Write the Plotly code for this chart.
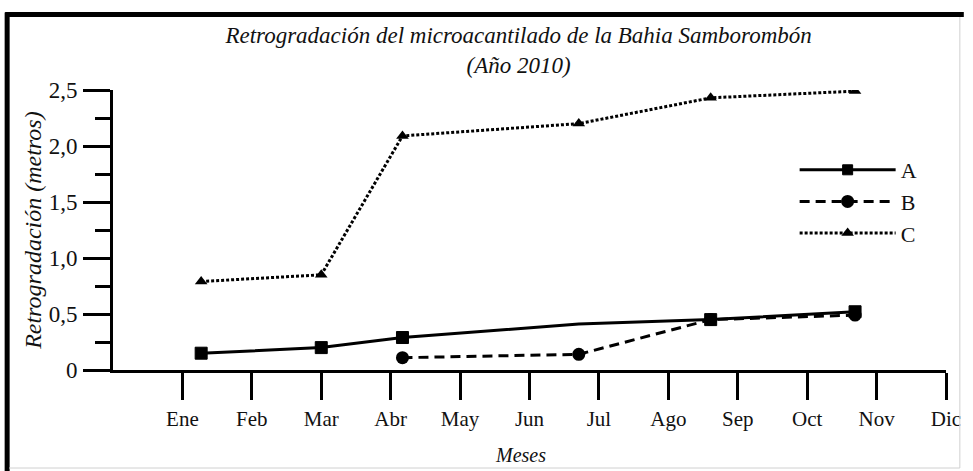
import plotly.graph_objects as go

# ---- data ----
month_labels = ["Ene", "Feb", "Mar", "Abr", "May", "Jun", "Jul", "Ago", "Sep", "Oct", "Nov", "Dic"]
month_pos = [1, 2, 3, 4, 5, 6, 7, 8, 9, 10, 11, 12]

a_x = [1.27, 3.00, 4.17, 6.71, 8.61, 10.69]
a_y = [0.15, 0.20, 0.29, 0.41, 0.45, 0.52]
a_marker_visible = [1, 1, 1, 0, 1, 1]

b_x = [4.17, 6.71, 8.61, 10.69]
b_y = [0.11, 0.14, 0.45, 0.49]

c_x = [1.27, 3.00, 4.17, 6.71, 8.61, 10.69]
c_y = [0.79, 0.85, 2.09, 2.20, 2.43, 2.49]

y_tick_vals = [0, 0.5, 1.0, 1.5, 2.0, 2.5]
y_tick_text = ["0", "0,5", "1,0", "1,5", "2,0", "2,5"]
y_minor_vals = [0.25, 0.75, 1.25, 1.75, 2.25]

title_line1 = "Retrogradación del microacantilado de la Bahia Samborombón"
title_line2 = "(Año 2010)"
x_title = "Meses"
y_title = "Retrogradación (metros)"

FONT = "Liberation Serif"
TXT = "#111"

L, R, T, B = 113, 18, 90, 101
PW = 973 - L - R
PH = 471 - T - B


def px_x(px):
    return (px - L) / PW


def px_y(py):
    return (471 - B - py) / PH


fig = go.Figure()
fig.add_trace(go.Scatter(
    x=a_x, y=a_y, name="A", mode="lines+markers",
    line=dict(color="black", width=3),
    marker=dict(symbol="square", size=[12 * v for v in a_marker_visible], color="black",
                opacity=1, line=dict(color="black", width=1)),
))
fig.add_trace(go.Scatter(
    x=b_x, y=b_y, name="B", mode="lines+markers",
    line=dict(color="black", width=3, dash="10px,6px"),
    marker=dict(symbol="circle", size=13, color="black", opacity=1),
))
fig.add_trace(go.Scatter(
    x=c_x, y=c_y, name="C", mode="lines+markers",
    line=dict(color="black", width=3, dash="3px,2px"),
    marker=dict(symbol="triangle-up", size=11, color="black", opacity=1),
))

fig.update_layout(
    width=973, height=471,
    margin=dict(l=L, r=R, t=T, b=B),
    paper_bgcolor="white", plot_bgcolor="white",
    font=dict(family=FONT, color=TXT, size=20),
    showlegend=True,
    legend=dict(
        x=px_x(802), y=px_y(149), xanchor="left", yanchor="top",
        font=dict(family=FONT, size=22, color=TXT),
        itemwidth=96, bgcolor="rgba(0,0,0,0)", tracegroupgap=0,
    ),
    title=dict(
        text="<i>" + title_line1 + "</i><br><i>" + title_line2 + "</i>",
        x=px_x(523), xref="paper", xanchor="center",
        y=1 - 43 / 471, yref="container", yanchor="middle",
        font=dict(family=FONT, size=23, color=TXT),
    ),
    xaxis=dict(
        range=[0, 12], tickmode="array", tickvals=month_pos, ticktext=month_labels,
        showline=True, linecolor="black", linewidth=3,
        ticks="outside", ticklen=27, tickwidth=3, tickcolor="black",
        showgrid=False, zeroline=False, ticklabelstandoff=1,
        tickfont=dict(family=FONT, size=21, color=TXT),
        fixedrange=True,
    ),
    yaxis=dict(
        range=[0, 2.5], tickmode="array", tickvals=y_tick_vals, ticktext=y_tick_text,
        showline=True, linecolor="black", linewidth=3,
        ticks="outside", ticklen=27, tickwidth=3, tickcolor="black",
        minor=dict(tickmode="array", tickvals=y_minor_vals, ticks="outside",
                   ticklen=15, tickwidth=3, tickcolor="black", showgrid=False),
        showgrid=False, zeroline=False, ticklabelstandoff=1,
        tickfont=dict(family=FONT, size=23, color=TXT),
        fixedrange=True,
    ),
    annotations=[
        dict(text="<i>" + x_title + "</i>", xref="paper", yref="paper",
             x=px_x(525), y=px_y(455), xanchor="center", yanchor="middle",
             showarrow=False, font=dict(family=FONT, size=20, color=TXT)),
        dict(text="<i>" + y_title + "</i>", xref="paper", yref="paper",
             x=px_x(32), y=0.5, xanchor="center", yanchor="middle", textangle=-90,
             showarrow=False, font=dict(family=FONT, size=24, color=TXT)),
    ],
    shapes=[
        dict(type="line", xref="paper", yref="paper",
             x0=px_x(6), x1=px_x(6), y0=px_y(471), y1=px_y(12.5),
             line=dict(color="black", width=5)),
        dict(type="line", xref="paper", yref="paper",
             x0=px_x(4), x1=px_x(973), y0=px_y(14.5), y1=px_y(14.5),
             line=dict(color="black", width=5)),
        dict(type="line", xref="paper", yref="paper",
             x0=px_x(969), x1=px_x(969), y0=px_y(468), y1=px_y(17),
             line=dict(color="#d0d0d0", width=1)),
        dict(type="line", xref="paper", yref="paper",
             x0=px_x(8), x1=px_x(969), y0=px_y(468), y1=px_y(468),
             line=dict(color="#d0d0d0", width=1)),
    ],
)

post = (
    "document.documentElement.style.overflow='hidden';"
    "document.body.style.margin='0';"
    "document.body.style.overflow='hidden';"
)
fig.write_html("out.html", config={"displayModeBar": False}, post_script=post)
